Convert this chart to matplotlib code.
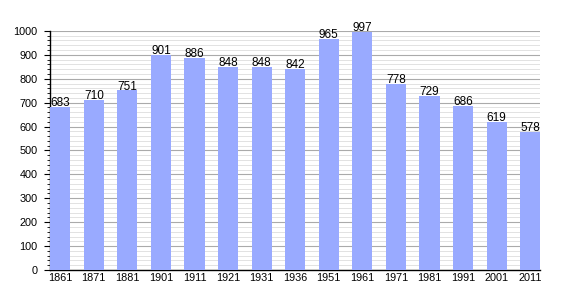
import matplotlib.pyplot as plt
from matplotlib.ticker import MultipleLocator

years = ["1861", "1871", "1881", "1901", "1911", "1921", "1931", "1936",
         "1951", "1961", "1971", "1981", "1991", "2001", "2011"]
population = [683, 710, 751, 901, 886, 848, 848, 842, 965, 997, 778, 729, 686, 619, 578]

plt.rcParams['font.family'] = ['Liberation Sans', 'DejaVu Sans']

fig = plt.figure(figsize=(5.7, 3.0), dpi=100)
ax = fig.add_axes([0.088, 0.1, 0.86, 0.797])

x = range(len(years))
ax.bar(x, population, width=0.6, color='#99aaff', zorder=3)
for i, v in zip(x, population):
    ax.annotate(str(v), (i, v), xytext=(0, -1.5), textcoords='offset points',
                ha='center', va='bottom', fontsize=8.5, zorder=4)

ax.set_xlim(-0.3, len(years) - 0.7)
ax.set_ylim(0, 1000)
ax.set_xticks(list(x))
ax.set_xticklabels(years)
ax.yaxis.set_major_locator(MultipleLocator(100))
ax.yaxis.set_minor_locator(MultipleLocator(20))
ax.grid(axis='y', which='major', color='#aaaaaa', linewidth=0.8, zorder=0)
ax.grid(axis='y', which='minor', color='#e2e2e2', linewidth=0.7, zorder=0)
ax.tick_params(axis='x', length=0, labelsize=7.8, pad=2)
ax.tick_params(axis='y', which='major', length=4, labelsize=7.8, pad=5)
ax.tick_params(axis='y', which='minor', length=2)
for s in ['top', 'right']:
    ax.spines[s].set_visible(False)
ax.spines['left'].set_linewidth(1.0)
ax.spines['bottom'].set_linewidth(1.0)

fig.savefig('out.png', dpi=100)
